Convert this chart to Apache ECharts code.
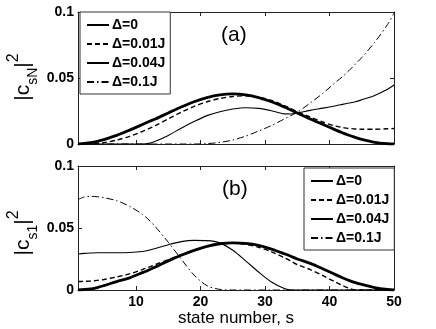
<!DOCTYPE html>
<html><head><meta charset="utf-8">
<script src="https://cdn.jsdelivr.net/npm/echarts@6/dist/echarts.min.js"></script>
<style>html,body{margin:0;padding:0;background:#fff}#c{width:436px;height:329px}</style>
</head><body><div id="c"></div>
<script>
// state number s
const states = [1,2,3,4,5,7,9,11,12,13,15,17,19,21,23,25,27,29,31,33,34,35,37,39,41,42,43,44,45,47,49,50];
const seriesNames = ['\u0394=0','\u0394=0.01J','\u0394=0.04J','\u0394=0.1J'];
const xTicks = [10,20,30,40,50];
const yTicks = [0,0.05,0.1];

// panel (a): |c_sN|^2
const a_d0    = [0,0.0004,0.001,0.002,0.0033,0.0065,0.0105,0.0148,0.017,0.019,0.0235,0.028,0.032,0.0352,0.0373,0.038,0.0373,0.0352,0.032,0.028,0.0258,0.0235,0.019,0.0148,0.0105,0.0085,0.0066,0.005,0.0035,0.0013,0.0002,0];
const a_d001  = [0,0.0001,0.0003,0.0006,0.001,0.003,0.0058,0.0095,0.0117,0.014,0.019,0.024,0.0285,0.032,0.0345,0.036,0.0365,0.0355,0.033,0.029,0.0268,0.0245,0.0205,0.0165,0.0135,0.0125,0.0118,0.0114,0.0112,0.0112,0.0115,0.0117];
const a_d004  = [0,0,0,0,0,0,0,0,0.0005,0.002,0.0065,0.012,0.017,0.0215,0.0245,0.0265,0.0275,0.027,0.0252,0.0228,0.0227,0.0235,0.0255,0.0272,0.029,0.030,0.031,0.032,0.0335,0.0368,0.0415,0.0447];
const a_d01   = [0,0,0,0,0,0,0,0,0,0,0,0,0,0.0003,0.0012,0.003,0.006,0.0098,0.014,0.019,0.0215,0.024,0.031,0.0385,0.047,0.051,0.0555,0.0605,0.0655,0.077,0.0905,0.099];

// panel (b): |c_s1|^2
const b_d0    = [0,0.0004,0.001,0.002,0.0035,0.0068,0.0098,0.014,0.0162,0.0185,0.0235,0.028,0.032,0.0352,0.0373,0.038,0.0376,0.036,0.033,0.0292,0.0272,0.025,0.0215,0.017,0.0122,0.0099,0.0078,0.006,0.0045,0.002,0.0004,0];
const b_d001  = [0.0068,0.007,0.0072,0.0078,0.0085,0.0105,0.013,0.0165,0.0185,0.0205,0.0245,0.0285,0.032,0.035,0.037,0.0377,0.0368,0.0345,0.0308,0.026,0.0233,0.0205,0.0165,0.0115,0.0062,0.0036,0.0014,0,0,0,0,0];
const b_d004  = [0.029,0.0295,0.0298,0.03,0.03,0.03,0.0302,0.031,0.032,0.0335,0.0365,0.039,0.04,0.0398,0.038,0.032,0.0235,0.0145,0.0065,0.0012,0,0,0,0,0,0,0,0,0,0,0,0];
const b_d01   = [0.073,0.075,0.0755,0.0752,0.0745,0.072,0.0675,0.061,0.0565,0.051,0.0385,0.025,0.012,0.0035,0.0005,0,0,0,0,0,0,0,0,0,0,0,0,0,0,0,0,0];

const FONT = 'Liberation Sans, Arial, Helvetica, sans-serif';
const AX = '#222';
const lineStyles = [
  {width:2.8, type:'solid'},
  {width:1.4, type:[5,3]},
  {width:1.1, type:'solid'},
  {width:1, type:[7,3,1.5,3]}
];
const panels = [[a_d0,a_d001,a_d004,a_d01],[b_d0,b_d001,b_d004,b_d01]];

function xAx(grid, pos, labels){
  return {gridIndex:grid, type:'value', min:1, max:50, position:pos,
    axisLine:{show:true, onZero:false, lineStyle:{color:AX, width:1}},
    axisTick:{show:true, inside:true, length:4, customValues:xTicks, lineStyle:{color:AX}},
    axisLabel:{show:labels, customValues:xTicks, margin:5, fontSize:14, fontWeight:'bold', fontFamily:FONT, color:'#000'},
    splitLine:{show:false},
    name: labels ? 'state number, s' : '', nameLocation:'middle', nameGap:18,
    nameTextStyle:{fontSize:17, fontFamily:FONT, color:'#000'}
  };
}
function yAx(grid, pos, labels){
  return {gridIndex:grid, type:'value', min:0, max:0.1, interval:0.05, position:pos,
    axisLine:{show:true, onZero:false, lineStyle:{color:AX, width:1}},
    axisTick:{show:true, inside:true, length:4, lineStyle:{color:AX}},
    axisLabel:{show:labels, margin:4, fontSize:14, fontWeight:'bold', fontFamily:FONT, color:'#000'},
    splitLine:{show:false}
  };
}

const series = [];
panels.forEach((arrs, p) => {
  arrs.forEach((arr, k) => {
    series.push({
      type:'line', name:seriesNames[k], xAxisIndex:p*2, yAxisIndex:p*2,
      data: states.map((s, j) => [s, arr[j]]),
      symbol:'none', showSymbol:false, smooth:0.3, animation:false,
      lineStyle: Object.assign({color:'#000'}, lineStyles[k]),
      itemStyle:{color:'#000'}, z: 3 + (3-k)
    });
  });
});

function legendAt(left, top){
  return {left:left, top:top, orient:'vertical', data:seriesNames, selectedMode:false,
    itemWidth:22, itemHeight:14, itemGap:5, padding:[6,5,5,6],
    borderColor:'#333', borderWidth:1, backgroundColor:'#fff',
    itemStyle:{color:'rgba(0,0,0,0)', borderWidth:0, opacity:0},
    textStyle:{fontSize:14, fontWeight:'bold', fontFamily:FONT, color:'#000', padding:[0,0,0,-2]}};
}

const yTitleRich = {
  m:{fontSize:21, fontFamily:FONT, color:'#000', lineHeight:34},
  s:{fontSize:14, fontFamily:FONT, color:'#000', verticalAlign:'bottom'},
  p:{fontSize:16, fontFamily:FONT, color:'#000', verticalAlign:'top'}
};

const chart = echarts.init(document.getElementById('c'), null, {renderer:'canvas'});
chart.setOption({
  animation:false,
  backgroundColor:'#fff',
  grid:[
    {left:78, top:12, width:316, height:132},
    {left:78, top:166, width:316, height:124}
  ],
  xAxis:[xAx(0,'bottom',false), xAx(0,'top',false), xAx(1,'bottom',true), xAx(1,'top',false)],
  yAxis:[yAx(0,'left',true), yAx(0,'right',false), yAx(1,'left',true), yAx(1,'right',false)],
  legend:[legendAt(80,12), legendAt(304,168)],
  series: series,
  graphic:[
    {type:'text', left:221, top:25, style:{text:'(a)', fontSize:21, fontFamily:FONT, fill:'#000'}},
    {type:'text', left:222, top:179, style:{text:'(b)', fontSize:21, fontFamily:FONT, fill:'#000'}},
    {type:'text', x:23, y:77, rotation:Math.PI/2,
      style:{text:'{m||c}{s|sN}{m||}{p|2}', align:'center', verticalAlign:'middle', rich:yTitleRich}},
    {type:'text', x:23, y:233, rotation:Math.PI/2,
      style:{text:'{m||c}{s|s1}{m||}{p|2}', align:'center', verticalAlign:'middle', rich:yTitleRich}}
  ]
});
</script>
</body></html>
